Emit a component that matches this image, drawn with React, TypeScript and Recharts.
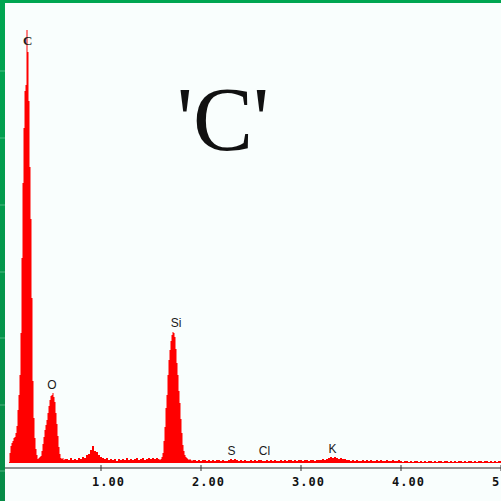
import React from 'react'
import { AreaChart, Area, XAxis, YAxis, ReferenceDot } from 'recharts'

// counts per channel (C and O region, 0.01 keV channels)
const lowStart = 0.08
const lowCounts = [
  1, 10, 17, 20, 22, 25, 26, 30, 37, 53,
  68, 88, 130, 205, 280, 335, 372, 378, 433, 411,
  362, 296, 244, 165, 82, 45, 25, 14, 8, 4,
  5, 6, 7, 12, 19, 26, 33, 38, 43, 50,
  57, 63, 67, 68, 70, 66, 61, 50, 39, 27,
  16, 9, 5, 4, 5, 3, 4,
]

// 0.66 - 1.58 keV, 0.02 keV channels (small bump near 0.93)
const midStart = 0.66
const midCounts = [
  4, 3, 5, 3, 4, 3, 5, 4, 6, 5,
  8, 9, 13, 17, 12, 11, 8, 6, 5, 4,
  5, 3, 4, 3, 4, 2, 4, 3, 4, 3,
  5, 3, 4, 3, 4, 5, 3, 4, 5, 3,
  4, 5, 4, 5, 4, 5, 4,
]

// Si peak, 0.01 keV channels
const siStart = 1.59
const siCounts = [
  3, 4, 6, 10, 22, 36, 55, 68, 88, 103,
  113, 122, 128, 131, 130, 126, 114, 100, 88, 72,
  60, 44, 30, 18, 12, 8, 6, 5, 4, 3,
  4, 3, 2, 3,
]

// 1.94 - 5.00 keV, 0.02 keV channels (S, Cl, K)
const tailStart = 1.94
const tailCounts = [
  3, 2, 3, 2, 3, 3, 2, 3, 2, 3, 2, 3, 3, 2, 3, 2, 2, 3, 4, 3,
  4, 3, 2, 3, 2, 3, 2, 2, 3, 2, 3, 2, 3,
  3, 2, 2, 3, 2, 3, 2, 3, 2, 2, 3, 2, 3, 2, 3, 3, 2, 3, 2, 3,
  3, 2, 3, 3, 2, 3, 3, 2, 3, 3, 3, 4, 3, 4,
  5, 6, 5, 6, 5, 4, 5, 4, 4, 3,
  3, 2, 3, 2, 3, 2, 2, 3, 2, 3, 2, 3, 2, 2, 3, 2, 3, 2, 2, 3,
  2, 2, 3, 2, 2, 3,
  2, 1, 2, 2, 1, 2, 1, 2, 2, 1, 2, 1, 2, 1, 2, 2, 1, 2, 1, 2,
  2, 1, 2, 2, 1, 2, 1, 2, 1, 2, 2, 1, 2, 1, 2, 2, 1, 2, 1, 2,
  2, 1, 2, 2, 1, 2, 1, 2, 1, 2, 2,
]

const xTicks = [1, 2, 3, 4, 5]

const peakNames = ['C', 'O', 'Si', 'S', 'Cl', 'K']
const peakEnergy = [0.268, 0.51, 1.75, 2.305, 2.635, 3.315]
const peakLabelAt = [418, 74, 136, 8, 8, 10]

const toRows = (start: number, step: number, counts: number[]) =>
  counts.map((c, i) => ({ e: Math.round((start + i * step) * 1000) / 1000, c }))

const spectrum = [
  ...toRows(lowStart, 0.01, lowCounts),
  ...toRows(midStart, 0.02, midCounts),
  ...toRows(siStart, 0.01, siCounts),
  ...toRows(tailStart, 0.02, tailCounts),
]

function KevTick(props: any) {
  const { x, y, payload } = props
  return (
    <g>
      <line x1={x} x2={x} y1={y - 3} y2={y + 3} stroke="#333" strokeWidth={1} />
      <text
        x={x - 9}
        y={y + 18}
        fontFamily="DejaVu Sans Mono"
        fontWeight="bold"
        fontSize={12}
        letterSpacing={1}
        fill="#111"
      >
        {Number(payload.value).toFixed(2)}
      </text>
    </g>
  )
}

export default function App() {
  return (
    <div style={{ position: 'fixed', left: 0, top: 0, width: 501, height: 501, background: '#f9fefd', overflow: 'hidden' }}>
      <AreaChart width={501} height={501} data={spectrum} margin={{ top: 30, right: 0, bottom: 0, left: 1 }}>
        <XAxis
          dataKey="e"
          type="number"
          domain={[0, 5]}
          ticks={xTicks}
          interval={0}
          allowDataOverflow
          tickLine={false}
          tickSize={0}
          tickMargin={0}
          height={33}
          axisLine={{ stroke: '#6e6e6e', strokeWidth: 1.5 }}
          tick={(p: any) => <KevTick {...p} />}
        />
        <YAxis hide type="number" domain={[-5, 433]} allowDataOverflow />
        <Area
          dataKey="c"
          type="step"
          fill="#ff0000"
          fillOpacity={1}
          stroke="none"
          baseValue={0}
          dot={false}
          activeDot={false}
          isAnimationActive={false}
        />
        {peakNames.map((name, i) => (
          <ReferenceDot
            key={name}
            x={peakEnergy[i]}
            y={peakLabelAt[i]}
            r={0}
            fill="none"
            stroke="none"
            label={{
              value: name,
              position: 'top',
              offset: 0,
              fill: '#1a1a1a',
              fontSize: name === 'C' ? 13 : 12,
              fontWeight: name === 'C' ? 'bold' : 'normal',
              fontFamily: name === 'C' ? 'Liberation Serif' : 'Liberation Sans',
            }}
          />
        ))}
      </AreaChart>
      <svg width={501} height={501} style={{ position: 'absolute', left: 0, top: 0, pointerEvents: 'none' }}>
        <defs>
          <linearGradient id="edge" x1="0" y1="0" x2="0" y2="1">
            <stop offset="0%" stopColor="#00a651" />
            <stop offset="100%" stopColor="#078b47" />
          </linearGradient>
        </defs>
        <rect x={0} y={0} width={5} height={501} fill="url(#edge)" />
        <rect x={0} y={0} width={501} height={3} fill="#00a651" />
        {[71, 138, 205, 272, 338, 405, 471].map((yy) => (
          <line key={yy} x1={0} x2={5} y1={yy} y2={yy} stroke="#ffffff" strokeOpacity={0.3} />
        ))}
        <text x={223} y={150} textAnchor="middle" fontFamily="Liberation Serif" fontSize={90} fill="#111">
          'C'
        </text>
      </svg>
    </div>
  )
}
